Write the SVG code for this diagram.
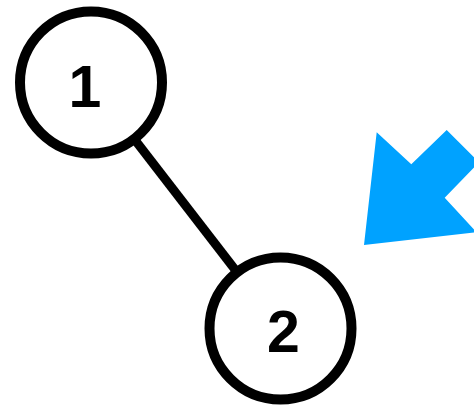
<svg xmlns="http://www.w3.org/2000/svg" width="474" height="409" viewBox="0 0 474 409">
<style>
.node circle{fill:#fff;stroke:#000;stroke-width:10}
.node text{font-family:"Liberation Sans",Arial,sans-serif;font-size:59px;font-weight:bold;fill:#000;text-anchor:middle}
.edge{stroke:#000;stroke-width:9}
</style>
<rect width="474" height="409" fill="#fff"/>
<g id="connectors">
<line class="edge" x1="91" y1="83" x2="280.5" y2="328.5"/>
</g>
<g id="node1" class="node">
<circle cx="91" cy="82.5" r="71"/>
<text x="85" y="107.3">1</text>
</g>
<g id="node2" class="node">
<circle cx="280.5" cy="328.5" r="71"/>
<text x="283.5" y="352.3">2</text>
</g>
<polygon id="pointer" fill="#00A2FF" points="364,245 376.7,132.3 411.3,164.3 446.7,130 479,162.3 444.7,197.7 476.7,232.3"/>
</svg>
